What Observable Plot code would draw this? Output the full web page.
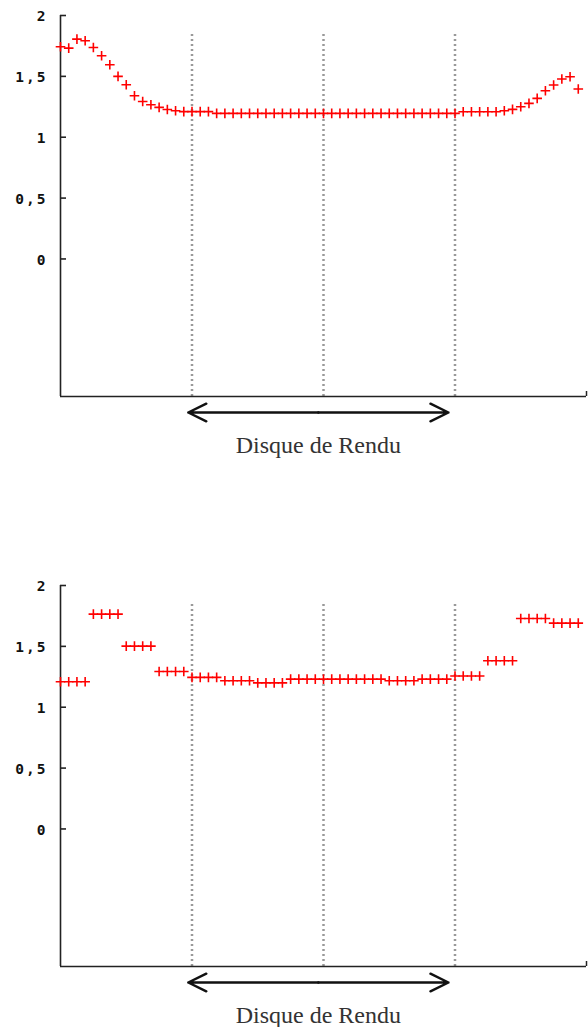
<!DOCTYPE html>
<html>
<head>
<meta charset="utf-8">
<script src="https://cdn.jsdelivr.net/npm/d3@7"></script>
<script src="https://cdn.jsdelivr.net/npm/@observablehq/plot@0.6"></script>
<style>
  html, body { margin: 0; padding: 0; background: #fff; overflow: hidden; }
  #chart svg { display: block; }
  #chart g[aria-label="y-axis tick label"] text { letter-spacing: 2px; }
</style>
</head>
<body>
<div id="chart"></div>
<script>
// ---- data ----
const topValues = [
  1.743, 1.732, 1.806, 1.792, 1.737, 1.669, 1.595, 1.500, 1.431, 1.341,
  1.294, 1.267, 1.245, 1.228, 1.218, 1.210, 1.210, 1.210, 1.210, 1.196,
  1.196, 1.196, 1.196, 1.196, 1.196, 1.196, 1.196, 1.196, 1.196, 1.196,
  1.196, 1.196, 1.196, 1.196, 1.196, 1.196, 1.196, 1.196, 1.196, 1.196,
  1.196, 1.196, 1.196, 1.196, 1.196, 1.196, 1.196, 1.196, 1.196, 1.209,
  1.209, 1.209, 1.209, 1.209, 1.218, 1.229, 1.250, 1.278, 1.319, 1.382,
  1.429, 1.478, 1.497, 1.396
];
const bottomValues = [
  1.209, 1.209, 1.209, 1.209,
  1.765, 1.765, 1.765, 1.765,
  1.502, 1.502, 1.502, 1.502,
  1.294, 1.294, 1.294, 1.294,
  1.245, 1.245, 1.245, 1.245,
  1.218, 1.218, 1.218, 1.218,
  1.200, 1.200, 1.200, 1.200,
  1.231, 1.231, 1.231, 1.231,
  1.231, 1.231, 1.231, 1.231,
  1.231, 1.231, 1.231, 1.231,
  1.218, 1.218, 1.218, 1.218,
  1.231, 1.231, 1.231, 1.231,
  1.256, 1.256, 1.256, 1.256,
  1.382, 1.382, 1.382, 1.382,
  1.729, 1.729, 1.729, 1.729,
  1.691, 1.691, 1.691, 1.691
];
const separators = [16, 32, 48];
const yTicks = [0, 0.5, 1, 1.5, 2];
const yTickLabels = ["0", "0,5", "1", "1,5", "2"];
const xDomain = [0, 64];
const yDomain = [-1.13, 2];
const separatorTop = 1.85;
const disque = {label: "Disque de Rendu", from: 15.55, to: 47.2};

// ---- drawing ----
const plusSymbol = {
  draw(ctx) {
    const r = 4.8;
    ctx.moveTo(-r, 0); ctx.lineTo(r, 0);
    ctx.moveTo(0, -r); ctx.lineTo(0, r);
  }
};

function panel(values, height) {
  const data = values.map((v, i) => ({i, v}));
  const yMin = yDomain[0];
  const mid = (disque.from + disque.to) / 2;
  return Plot.plot({
    width: 588,
    height,
    marginLeft: 60,
    marginRight: 2,
    marginTop: 15,
    marginBottom: height - 396,
    style: {background: "#fff", overflow: "visible"},
    x: {domain: xDomain, axis: null},
    y: {domain: yDomain, axis: null},
    marks: [
      Plot.ruleX(separators, {y1: yMin, y2: separatorTop, stroke: "#999", strokeWidth: 2.5, strokeDasharray: "2,3"}),
      Plot.ruleX([xDomain[0]], {y1: yMin, y2: yDomain[1], stroke: "#222", strokeWidth: 1.6}),
      Plot.ruleY([yMin], {x1: xDomain[0], x2: xDomain[1], stroke: "#222", strokeWidth: 1.6}),
      Plot.tickY(yTicks, {insetRight: 520, stroke: "#222", strokeWidth: 1.6}),
      Plot.tickX([xDomain[1]], {insetTop: 376, stroke: "#222", strokeWidth: 1.5}),
      Plot.axisY({
        ticks: yTicks, label: null, tickSize: 0, tickPadding: 13, dy: 1,
        tickFormat: d => yTickLabels[yTicks.indexOf(d)],
        fontFamily: "DejaVu Sans Mono", fontWeight: "bold", fontSize: 14.5, fill: "#111"
      }),
      Plot.dot(data, {x: "i", y: "v", symbol: plusSymbol, fill: "none", stroke: "#ff0000", strokeWidth: 1.6}),
      Plot.arrow([disque], {x1: () => mid, x2: "from", y1: () => yMin, y2: () => yMin, dy: 16, bend: 0, stroke: "#111", strokeWidth: 2.5, headLength: 12, headAngle: 52}),
      Plot.arrow([disque], {x1: () => mid, x2: "to", y1: () => yMin, y2: () => yMin, dy: 16, bend: 0, stroke: "#111", strokeWidth: 2.5, headLength: 12, headAngle: 52}),
      Plot.text([disque], {x: () => mid, y: () => yMin, dy: 56, text: "label", lineAnchor: "bottom", textAnchor: "middle", fontFamily: "Liberation Serif", fontSize: 24, fill: "#333"})
    ]
  });
}

const root = document.getElementById("chart");
root.appendChild(panel(topValues, 570));
root.appendChild(panel(bottomValues, 457));
</script>
</body>
</html>
